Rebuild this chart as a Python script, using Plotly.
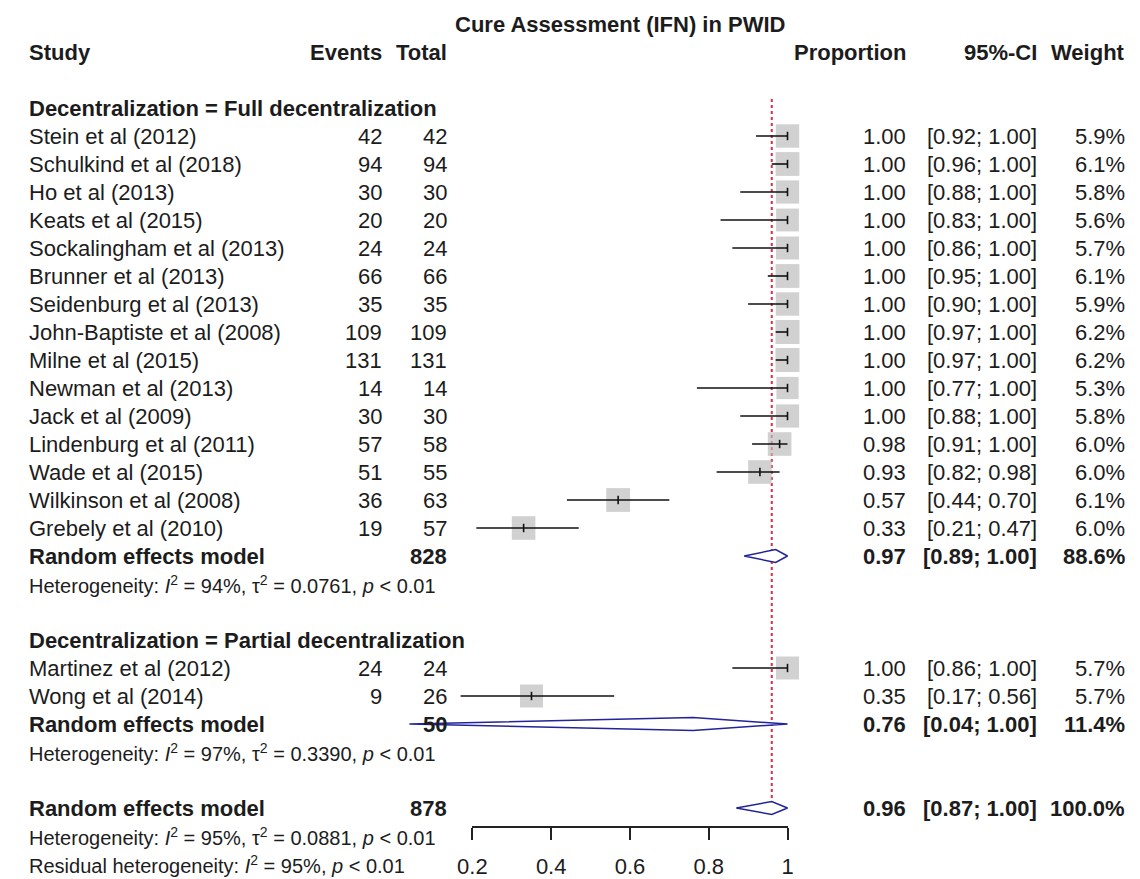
import plotly.graph_objects as go

# ---------------- data ----------------
full_studies = ["Stein et al (2012)", "Schulkind et al (2018)", "Ho et al (2013)",
                "Keats et al (2015)", "Sockalingham et al (2013)", "Brunner et al (2013)",
                "Seidenburg et al (2013)", "John-Baptiste et al (2008)", "Milne et al (2015)",
                "Newman et al (2013)", "Jack et al (2009)", "Lindenburg et al (2011)",
                "Wade et al (2015)", "Wilkinson et al (2008)", "Grebely et al (2010)"]
full_events = [42, 94, 30, 20, 24, 66, 35, 109, 131, 14, 30, 57, 51, 36, 19]
full_total = [42, 94, 30, 20, 24, 66, 35, 109, 131, 14, 30, 58, 55, 63, 57]
full_prop = [1.00, 1.00, 1.00, 1.00, 1.00, 1.00, 1.00, 1.00, 1.00, 1.00, 1.00, 0.98, 0.93, 0.57, 0.33]
full_lower = [0.92, 0.96, 0.88, 0.83, 0.86, 0.95, 0.90, 0.97, 0.97, 0.77, 0.88, 0.91, 0.82, 0.44, 0.21]
full_upper = [1.00, 1.00, 1.00, 1.00, 1.00, 1.00, 1.00, 1.00, 1.00, 1.00, 1.00, 1.00, 0.98, 0.70, 0.47]
full_weight = [5.9, 6.1, 5.8, 5.6, 5.7, 6.1, 5.9, 6.2, 6.2, 5.3, 5.8, 6.0, 6.0, 6.1, 6.0]

part_studies = ["Martinez et al (2012)", "Wong et al (2014)"]
part_events = [24, 9]
part_total = [24, 26]
part_prop = [1.00, 0.35]
part_lower = [0.86, 0.17]
part_upper = [1.00, 0.56]
part_weight = [5.7, 5.7]

# random effects summaries: [full, partial, overall]
re_total = [828, 50, 878]
re_prop = [0.97, 0.76, 0.96]
re_lower = [0.89, 0.04, 0.87]
re_upper = [1.00, 1.00, 1.00]
re_weight = [88.6, 11.4, 100.0]

het_text = [
    "Heterogeneity: <i>I</i><sup>2</sup> = 94%, τ<sup>2</sup> = 0.0761, <i>p</i> &lt; 0.01",
    "Heterogeneity: <i>I</i><sup>2</sup> = 97%, τ<sup>2</sup> = 0.3390, <i>p</i> &lt; 0.01",
    "Heterogeneity: <i>I</i><sup>2</sup> = 95%, τ<sup>2</sup> = 0.0881, <i>p</i> &lt; 0.01",
]
resid_text = "Residual heterogeneity: <i>I</i><sup>2</sup> = 95%, <i>p</i> &lt; 0.01"

axis_ticks = [0.2, 0.4, 0.6, 0.8, 1.0]
axis_ticktext = ["0.2", "0.4", "0.6", "0.8", "1"]

title = "Cure Assessment (IFN) in PWID"
group_labels = ["Decentralization = Full decentralization",
                "Decentralization = Partial decentralization"]

# ---------------- layout geometry ----------------
W, H = 1140, 879
ROW0_PX, ROW_STEP = 108, 28          # pixel centre of row 0 and row spacing
X02_PX, X1_PX = 466, 787             # pixel positions of 0.2 and 1 on the effect axis
ppu = (X1_PX - X02_PX) / 0.8
x_range = [0.2 - X02_PX / ppu, 0.2 + (W - X02_PX) / ppu]
y_range = [(H - ROW0_PX) / ROW_STEP, -ROW0_PX / ROW_STEP]

FONT = "Liberation Sans, Arial, sans-serif"
TXT = "#1c1c1c"
FS = 22
FS_HET = 20
SQUARE = "#bebebe"
BLUE = "#23239a"
RED = "#d0304c"

# column anchors (pixels)
COL_STUDY = 12
COL_EVENTS = 376
COL_TOTAL = 442
COL_PROP = 910
COL_CI = 1043
COL_WEIGHT = 1133

# row assignment
n_full = len(full_studies)
r_full_head = 0
r_full = list(range(1, n_full + 1))
r_full_re = n_full + 1
r_full_het = n_full + 2
r_part_head = n_full + 4
r_part = list(range(r_part_head + 1, r_part_head + 1 + len(part_studies)))
r_part_re = r_part[-1] + 1
r_part_het = r_part_re + 1
r_all_re = r_part_het + 2
r_all_het = r_all_re + 1
r_resid = r_all_het + 1
r_header = -2
r_title = -3

fig = go.Figure()

# reference line at overall random-effects estimate
fig.add_trace(go.Scatter(
    x=[re_prop[2], re_prop[2]], y=[-0.32, r_all_re - 0.24],
    mode="lines", line=dict(color=RED, width=2, dash="dot"), hoverinfo="skip"))

# study squares
studies_rows = r_full + r_part
props = full_prop + part_prop
lowers = full_lower + part_lower
uppers = full_upper + part_upper
weights = full_weight + part_weight
fig.add_trace(go.Scatter(
    x=props, y=studies_rows, mode="markers",
    marker=dict(symbol="square", color=SQUARE,
                size=[24 * (w / 6.2) ** 0.5 for w in weights], line=dict(width=0)),
    hoverinfo="skip"))

# confidence intervals and estimate ticks
ci_x, ci_y = [], []
for p, lo, hi, r in zip(props, lowers, uppers, studies_rows):
    ci_x += [lo, hi, None, p, p, None]
    ci_y += [r, r, None, r - 0.15, r + 0.15, None]
fig.add_trace(go.Scatter(x=ci_x, y=ci_y, mode="lines",
                         line=dict(color="#111111", width=1.6), hoverinfo="skip"))

# summary diamonds
for p, lo, hi, r in zip(re_prop, re_lower, re_upper, [r_full_re, r_part_re, r_all_re]):
    h = 0.23
    fig.add_trace(go.Scatter(
        x=[lo, p, hi, p, lo], y=[r, r - h, r, r + h, r],
        mode="lines", fill="toself", fillcolor="white",
        line=dict(color=BLUE, width=1.5), hoverinfo="skip"))

# invisible trace that carries the visible effect axis (own subplot)
fig.add_trace(go.Scatter(x=[0.2, 1.0], y=[0, 0], xaxis="x2", yaxis="y2",
                         mode="markers", marker=dict(opacity=0), hoverinfo="skip"))

annotations = []


def put(text, px, row, anchor, size=FS, bold=False):
    if bold:
        text = f"<b>{text}</b>"
    annotations.append(dict(
        text=text, x=px / W, xref="paper", y=row, yref="y",
        xanchor=anchor, yanchor="middle", showarrow=False,
        font=dict(family=FONT, size=size, color=TXT)))


# title and column headers
put(title, 616, r_title, "center", bold=True)
put("Study", COL_STUDY, r_header, "left", bold=True)
put("Events", COL_EVENTS, r_header, "right", bold=True)
put("Total", COL_TOTAL, r_header, "right", bold=True)
put("Proportion", COL_PROP, r_header, "right", bold=True)
put("95%-CI", COL_CI, r_header, "right", bold=True)
put("Weight", COL_WEIGHT, r_header, "right", bold=True)

# group headers
put(group_labels[0], COL_STUDY, r_full_head, "left", bold=True)
put(group_labels[1], COL_STUDY, r_part_head, "left", bold=True)

# study rows
all_names = full_studies + part_studies
all_events = full_events + part_events
all_totals = full_total + part_total
for name, ev, tot, p, lo, hi, w, r in zip(all_names, all_events, all_totals,
                                          props, lowers, uppers, weights, studies_rows):
    put(name, COL_STUDY, r, "left")
    put(str(ev), COL_EVENTS, r, "right")
    put(str(tot), COL_TOTAL, r, "right")
    put(f"{p:.2f}", COL_PROP, r, "right")
    put(f"[{lo:.2f}; {hi:.2f}]", COL_CI, r, "right")
    put(f"{w:.1f}%", COL_WEIGHT, r, "right")

# summary rows
for tot, p, lo, hi, w, r, het, hr in zip(re_total, re_prop, re_lower, re_upper, re_weight,
                                         [r_full_re, r_part_re, r_all_re], het_text,
                                         [r_full_het, r_part_het, r_all_het]):
    put("Random effects model", COL_STUDY, r, "left", bold=True)
    put(str(tot), COL_TOTAL, r, "right", bold=True)
    put(f"{p:.2f}", COL_PROP, r, "right", bold=True)
    put(f"[{lo:.2f}; {hi:.2f}]", COL_CI, r, "right", bold=True)
    put(f"{w:.1f}%", COL_WEIGHT, r, "right", bold=True)
    put(het, COL_STUDY, hr, "left", size=FS_HET)
put(resid_text, COL_STUDY, r_resid, "left", size=FS_HET)

axis_line_px = 826
axis_pos = (H - axis_line_px) / H
fig.update_layout(
    width=W, height=H, margin=dict(l=0, r=0, t=0, b=0),
    paper_bgcolor="white", plot_bgcolor="rgba(0,0,0,0)", showlegend=False,
    xaxis=dict(domain=[0, 1], range=x_range, visible=False),
    yaxis=dict(domain=[0, 1], range=y_range, visible=False),
    yaxis2=dict(domain=[axis_pos, axis_pos + 0.01], range=[0, 1], visible=False,
                anchor="x2"),
    xaxis2=dict(domain=[X02_PX / W, X1_PX / W], range=[0.2, 1.0], anchor="y2",
                side="bottom",
                showline=True, linecolor="#222222", linewidth=1.5,
                ticks="outside", ticklen=12, tickwidth=1.5, tickcolor="#222222",
                tickvals=axis_ticks, ticktext=axis_ticktext,
                tickfont=dict(family=FONT, size=FS, color=TXT),
                ticklabelstandoff=8,
                showgrid=False, zeroline=False),
    annotations=annotations,
)

fig.write_html("out.html")
